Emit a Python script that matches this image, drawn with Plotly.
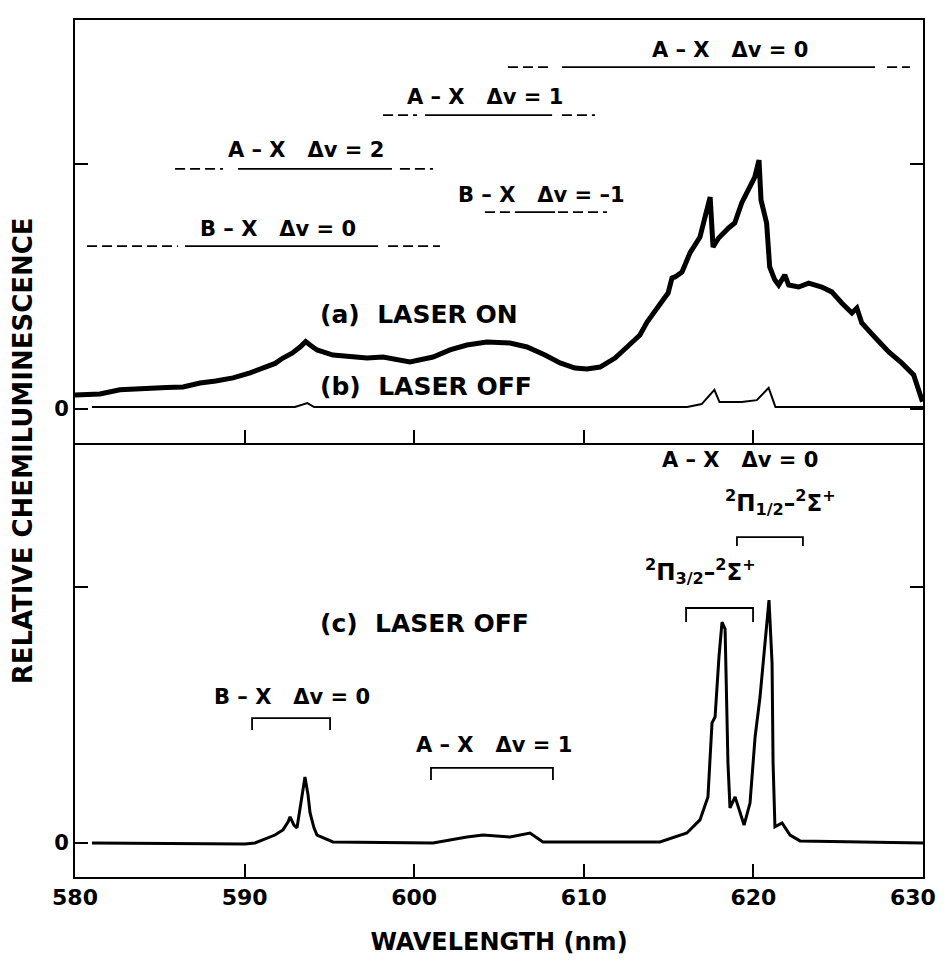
import plotly.graph_objects as go

# ---------------- data ----------------
# (a) LASER ON  (top panel)
WL_A = [580.0, 580.88, 581.47, 582.65, 583.5, 584.42, 585.4, 586.37, 587.37, 588.3, 589.32, 590.32, 591.32,
        591.8, 592.26, 592.8, 593.27, 593.6, 593.86, 594.27, 595.21, 596.21, 597.22, 598.16, 599.16,
        599.75, 601.11, 602.11, 603.11, 604.29, 605.65, 606.65, 607.71, 608.60, 609.48,
        610.19, 610.96, 611.84, 612.55, 613.31, 613.73, 614.08, 614.67, 614.97, 615.20,
        615.38, 615.79, 616.26, 616.85, 617.15, 617.45, 617.62, 617.95, 618.54, 618.90,
        619.31, 619.72, 620.08, 620.33, 620.45, 620.78, 620.96, 621.26, 621.49, 621.85,
        622.08, 622.67, 623.26, 624.03, 624.62, 625.21, 625.81, 626.10, 626.39, 627.15,
        627.98, 628.74, 629.45, 629.80, 629.97]
INT_A = [0.057, 0.057, 0.061, 0.078, 0.082, 0.086, 0.088, 0.090, 0.106, 0.114, 0.127, 0.147, 0.171,
         0.186, 0.208, 0.228, 0.253, 0.275, 0.261, 0.241, 0.220, 0.212, 0.208, 0.212, 0.200,
         0.192, 0.212, 0.241, 0.261, 0.273, 0.269, 0.253, 0.220, 0.188, 0.167,
         0.163, 0.171, 0.208, 0.253, 0.302, 0.355, 0.392, 0.445, 0.473, 0.535,
         0.539, 0.559, 0.637, 0.702, 0.784, 0.865, 0.661, 0.698, 0.739, 0.759,
         0.841, 0.894, 0.947, 1.016, 0.853, 0.759, 0.580, 0.527, 0.506, 0.547,
         0.506, 0.498, 0.514, 0.498, 0.478, 0.433, 0.392, 0.412, 0.351, 0.294,
         0.233, 0.188, 0.139, 0.065, 0.030]

# (b) LASER OFF (top panel)
WL_B = [581.0, 592.97, 593.7, 594.1, 616.1, 616.95, 617.7, 618.0, 619.3, 620.2, 620.9, 621.3, 630.0]
INT_B = [0.008, 0.008, 0.024, 0.008, 0.008, 0.020, 0.078, 0.028, 0.028, 0.036, 0.086, 0.008, 0.008]

# (c) LASER OFF (bottom panel)
WL_C = [581.0, 590.02, 590.61, 591.32, 591.79, 592.26, 592.56, 592.68, 592.91, 593.09,
        593.33, 593.56, 593.74, 593.86, 594.09, 594.27, 595.21, 601.11, 603.11, 604.06,
        605.65, 606.83, 607.59, 614.49, 616.08, 616.85, 617.32, 617.56, 617.74, 617.97,
        618.15, 618.33, 618.50, 618.62, 618.92, 619.10, 619.45, 619.80, 620.10, 620.39,
        620.74, 620.92, 621.10, 621.16, 621.27, 621.69, 622.16, 622.75, 630.0]
INT_C = [0.0, -0.004, 0.0, 0.020, 0.031, 0.051, 0.082, 0.102, 0.070, 0.059,
         0.168, 0.258, 0.188, 0.117, 0.059, 0.031, 0.004, 0.0, 0.023, 0.031,
         0.023, 0.039, 0.004, 0.004, 0.039, 0.090, 0.180, 0.469, 0.492, 0.727,
         0.863, 0.836, 0.313, 0.137, 0.180, 0.141, 0.070, 0.156, 0.414, 0.570,
         0.832, 0.949, 0.703, 0.313, 0.063, 0.078, 0.031, 0.008, 0.0]

X_TICKS = [580, 590, 600, 610, 620, 630]
X_TICK_LABELS = ["580", "590", "600", "610", "620", "630"]
Y_TICKS = [0, 1]
Y_TICK_LABELS = ["0", ""]

TOP_BAND_LABELS = ["A – X   Δv = 0", "A – X   Δv = 1", "A – X   Δv = 2",
                   "B – X   Δv = –1", "B – X   Δv = 0"]
BOTTOM_BAND_LABELS = ["A – X   Δv = 0", "B – X   Δv = 0", "A – X   Δv = 1"]
PI_HALF = "<sup>2</sup>Π<sub>1/2</sub>–<sup>2</sup>Σ<sup>+</sup>"
PI_THREE_HALF = "<sup>2</sup>Π<sub>3/2</sub>–<sup>2</sup>Σ<sup>+</sup>"
CURVE_LABELS = ["(a)  LASER ON", "(b)  LASER OFF", "(c)  LASER OFF"]

# ---------------- figure ----------------
FONT = "DejaVu Sans"
NB = "\u00a0"


def nb(s):
    return s.replace(" ", NB)


fig = go.Figure()
fig.add_trace(go.Scatter(x=WL_A, y=INT_A, mode="lines", xaxis="x", yaxis="y",
                         line=dict(color="black", width=5)))
fig.add_trace(go.Scatter(x=WL_B, y=INT_B, mode="lines", xaxis="x", yaxis="y",
                         line=dict(color="black", width=2)))
fig.add_trace(go.Scatter(x=WL_C, y=INT_C, mode="lines", xaxis="x2", yaxis="y2",
                         line=dict(color="black", width=3)))

shapes = []
DASH = "10px,5px"


def band(y, dashed, solid, xref="x", yref="y"):
    for (a, b) in dashed:
        shapes.append(dict(type="line", xref=xref, yref=yref, x0=a, x1=b, y0=y, y1=y,
                           line=dict(color="black", width=1.8, dash=DASH)))
    shapes.append(dict(type="line", xref=xref, yref=yref, x0=solid[0], x1=solid[1], y0=y, y1=y,
                       line=dict(color="black", width=1.8)))


band(1.396, [(605.53, 608.18), (627.88, 629.23)], (608.71, 627.17))
band(1.200, [(598.16, 600.17), (608.71, 610.66)], (600.64, 608.13))
band(0.980, [(585.90, 588.73), (599.16, 601.11)], (589.61, 598.69))
band(0.804, [(604.17, 606.12), (608.48, 611.37)], (606.12, 608.30))
band(0.665, [(580.71, 586.07), (598.46, 601.52)], (586.49, 597.87))


def bracket(x0, x1, y, ylow):
    shapes.append(dict(type="path", xref="x2", yref="y2",
                       path=f"M {x0},{ylow} L {x0},{y} L {x1},{y} L {x1},{ylow}",
                       line=dict(color="black", width=1.8)))


bracket(619.03, 622.92, 1.195, 1.160)
bracket(616.03, 619.98, 0.918, 0.863)
bracket(590.44, 595.04, 0.488, 0.441)
bracket(600.99, 608.18, 0.293, 0.246)

ann = []


def label(text, x, y, xref="x", yref="y", size=21, xanchor="center"):
    ann.append(dict(text=text, x=x, y=y, xref=xref, yref=yref, showarrow=False,
                    xanchor=xanchor, yanchor="middle",
                    font=dict(family=FONT, size=size, color="black", weight="bold")))


label(nb(TOP_BAND_LABELS[0]), 618.62, 1.465)
label(nb(TOP_BAND_LABELS[1]), 604.17, 1.273)
label(nb(TOP_BAND_LABELS[2]), 593.62, 1.057)
label(nb(TOP_BAND_LABELS[3]), 607.48, 0.873)
label(nb(TOP_BAND_LABELS[4]), 591.97, 0.735)
label(nb(CURVE_LABELS[0]), 594.3, 0.384, size=25, xanchor="left")
label(nb(CURVE_LABELS[1]), 594.3, 0.090, size=25, xanchor="left")

label(nb(BOTTOM_BAND_LABELS[0]), 619.21, 1.496, "x2", "y2")
label(PI_HALF, 621.6, 1.33, "x2", "y2", size=23)
label(PI_THREE_HALF, 616.9, 1.06, "x2", "y2", size=23)
label(nb(CURVE_LABELS[2]), 594.3, 0.859, "x2", "y2", size=25, xanchor="left")
label(nb(BOTTOM_BAND_LABELS[1]), 592.79, 0.570, "x2", "y2")
label(nb(BOTTOM_BAND_LABELS[2]), 604.71, 0.383, "x2", "y2")

ann.append(dict(text="RELATIVE CHEMILUMINESCENCE", x=-0.061, y=0.497, xref="paper", yref="paper",
                textangle=-90, showarrow=False, xanchor="center", yanchor="middle",
                font=dict(family=FONT, size=26, color="black", weight="bold")))

# the last tick label sits at the page's right edge: right-align it against the edge
tick_text = X_TICK_LABELS[:-1] + [""]
ann.append(dict(text=X_TICK_LABELS[-1], x=1.0175, y=-0.0235, xref="paper", yref="paper",
                showarrow=False, xanchor="right", yanchor="middle",
                font=dict(family=FONT, size=22, color="black", weight="bold")))

axis_common = dict(range=[580, 630], showline=True, linecolor="black", linewidth=2,
                   ticks="inside", ticklen=13, tickwidth=2, tickcolor="black",
                   showgrid=False, zeroline=False, automargin=False)
yaxis_common = dict(showline=True, linecolor="black", linewidth=2, mirror="ticks",
                    ticks="inside", ticklen=13, tickwidth=2, tickcolor="black",
                    showgrid=False, zeroline=False, tickvals=Y_TICKS, ticktext=Y_TICK_LABELS,
                    automargin=False,
                    tickfont=dict(family=FONT, size=21, color="black", weight="bold"))

SPLIT = 0.5064
# the page body adds an 8px offset; the figure size and margins compensate for it
fig.update_layout(
    width=930, height=948,
    margin=dict(l=67, r=15, t=12, b=79),
    paper_bgcolor="white", plot_bgcolor="white",
    showlegend=False,
    xaxis=dict(**axis_common, anchor="y", mirror=True, tickvals=X_TICKS[1:-1], showticklabels=False),
    xaxis2=dict(**axis_common, anchor="y2", mirror=False, matches="x", tickvals=X_TICKS,
                ticktext=tick_text,
                tickfont=dict(family=FONT, size=22, color="black", weight="bold"),
                title=dict(text="WAVELENGTH (nm)", standoff=31,
                           font=dict(family=FONT, size=24, color="black", weight="bold"))),
    yaxis=dict(**yaxis_common, domain=[SPLIT, 1], range=[-0.139, 1.588], anchor="x"),
    yaxis2=dict(**yaxis_common, domain=[0, SPLIT], range=[-0.133, 1.5625], anchor="x2"),
    shapes=shapes,
    annotations=ann,
)

fig.write_html("out.html")
